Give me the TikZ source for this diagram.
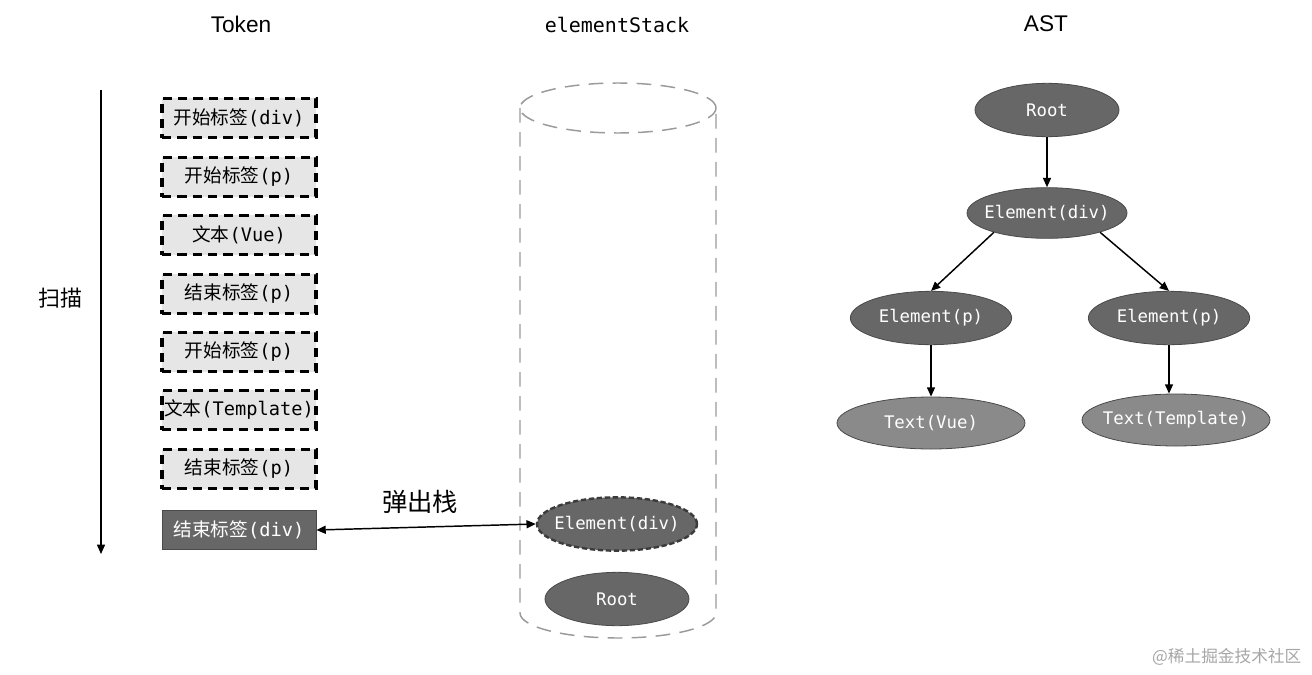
\documentclass[tikz,border=0pt]{standalone}
\usepackage{fontspec}
\setmainfont{Liberation Sans}
\setmonofont{DejaVu Sans Mono}
\newfontfamily\cjk{Noto Sans CJK SC}
\usetikzlibrary{shapes.geometric,arrows.meta}
\definecolor{nodefill}{HTML}{676767}
\definecolor{leaffill}{HTML}{8A8A8A}
\definecolor{nodeline}{HTML}{4A4A4A}
\definecolor{tokfill}{HTML}{E6E6E6}
\definecolor{cylline}{HTML}{9A9A9A}
\newcommand{\tk}[2]{{\cjk #1}{\ttfamily #2}}
\begin{document}
\begin{tikzpicture}[x=0.75pt,y=-0.75pt,
  tok/.style={draw=black, fill=tokfill, line width=2.4pt, dash pattern=on 7pt off 4.5pt,
    minimum width=115.5pt, minimum height=29.5pt, inner sep=0pt,
    font=\fontsize{14}{16}\selectfont},
  tokend/.style={draw=nodeline, fill=nodefill, line width=0.6pt, text=white,
    minimum width=115.5pt, minimum height=29.5pt, inner sep=0pt,
    font=\fontsize{14}{16}\selectfont},
  ast/.style={ellipse, draw=nodeline, fill=nodefill, line width=0.6pt, text=white,
    inner xsep=-25pt, inner ysep=0pt, font=\ttfamily\fontsize{13}{16}\selectfont},
  leaf/.style={ast, fill=leaffill},
  title/.style={font=\fontsize{17}{20}\selectfont},
  cyl/.style={draw=cylline, line width=1.1pt, dash pattern=on 11pt off 7pt},
  arr/.style={-{Triangle[length=7pt,width=6pt]}, line width=1.1pt},
  darr/.style={{Triangle[length=7pt,width=6pt]}-{Triangle[length=7pt,width=6pt]}, line width=1.1pt},
]
\useasboundingbox (0,0) rectangle (1312,674);

% titles
\node[title] (tTok) at (241,24) {Token};
\node[title, font=\ttfamily\fontsize{15}{18}\selectfont] (tStack) at (617,25) {elementStack};
\node[title] (tAst) at (1046,24) {AST};

% scan arrow
\coordinate (s0) at (101,90);
\coordinate (s1) at (101,554);
\draw[arr] (s0) -- (s1);
\node[font=\cjk\fontsize{16.5}{20}\selectfont] (scan) at (60,298) {扫描};

% tokens
\node[tok] (k1) at (239,118) {\tk{开始标签}{(div)}};
\node[tok] (k2) at (239,177) {\tk{开始标签}{(p)}};
\node[tok] (k3) at (239,235) {\tk{文本}{(Vue)}};
\node[tok] (k4) at (239,294) {\tk{结束标签}{(p)}};
\node[tok] (k5) at (239,352) {\tk{开始标签}{(p)}};
\node[tok] (k6) at (239,410) {\tk{文本}{(Template)}};
\node[tok] (k7) at (239,469) {\tk{结束标签}{(p)}};
\node[tokend] (k8) at (239,530) {\tk{结束标签}{(div)}};

% stack cylinder
\draw[cyl] (618,108) ellipse [x radius=73.5pt, y radius=18.75pt];
\draw[cyl] (520,108) -- (520,613) arc[start angle=180, end angle=360, x radius=73.5pt, y radius=18.75pt] -- (716,108);

% stack contents
\node[ast, minimum width=120pt, minimum height=40pt, draw=nodeline!80!black, line width=1.8pt, dash pattern=on 4pt off 2pt] (sdiv) at (617,524) {Element(div)};
\node[ast, minimum width=108pt, minimum height=40pt] (sroot) at (617,599) {Root};

% pop arrow
\draw[darr] (k8.east) -- (sdiv.west);
\node[font=\cjk\fontsize{19}{22}\selectfont] (pop) at (420,502) {弹出栈};

% AST
\node[ast, minimum width=108pt, minimum height=40pt] (aroot) at (1047,110) {Root};
\node[ast, minimum width=120pt, minimum height=38pt] (adiv) at (1047,213) {Element(div)};
\node[ast, minimum width=121pt, minimum height=40pt] (ap1) at (931,318) {Element(p)};
\node[ast, minimum width=121pt, minimum height=40pt] (ap2) at (1169,318) {Element(p)};
\node[leaf, minimum width=141pt, minimum height=39pt] (at1) at (931,423) {Text(Vue)};
\node[leaf, minimum width=141pt, minimum height=39pt] (at2) at (1176,420) {Text(Template)};

\draw[arr] (aroot) -- (adiv);
\draw[arr] (adiv.200) -- (ap1.north);
\draw[arr] (adiv.340) -- (ap2.north);
\draw[arr] (ap1) -- (at1);
\draw[arr] (ap2.south) -- (ap2.south |- at2.north);

% watermark
\node[font=\cjk\fontsize{12.5}{14}\selectfont, text=black!35, anchor=east] (wm) at (1306,657) {@稀土掘金技术社区};
\end{tikzpicture}
\end{document}
